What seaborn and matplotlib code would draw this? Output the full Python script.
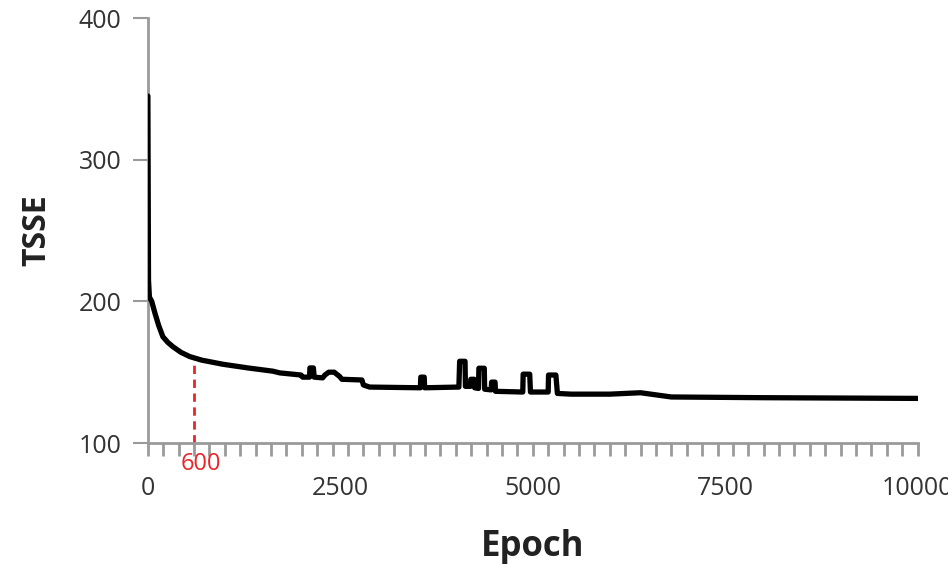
"""Recreate the TSSE vs Epoch training curve."""

import pandas as pd
import matplotlib.pyplot as plt
import seaborn as sns
from matplotlib.ticker import MultipleLocator

# Training curve (epoch, TSSE)
epoch = [0, 8, 20, 50, 90, 140, 195, 260, 325, 430, 545, 700, 975, 1300,
         1625, 1714, 1990, 2010, 2100, 2105, 2150, 2160, 2270, 2300, 2350,
         2420, 2490, 2520, 2780, 2800, 2880, 3540, 3545, 3590, 3595, 4040,
         4050, 4120, 4125, 4190, 4195, 4240, 4245, 4295, 4300, 4370, 4375,
         4460, 4465, 4510, 4515, 4870, 4875, 4960, 4970, 5200, 5205, 5300,
         5320, 5500, 6000, 6400, 6800, 8000, 10000]
tsse = [345, 215, 203, 200, 192, 183, 175, 171, 168, 164, 161, 158.5, 155.6,
        153, 150.7, 149.5, 148, 146.5, 146.5, 153, 153, 146.5, 146, 148, 150,
        150, 147, 145, 144.5, 141, 139.5, 139, 146.5, 146.5, 139, 139.5,
        157.7, 157.7, 140, 140, 145, 145, 139, 138.5, 152.8, 152.8, 138,
        137.5, 143, 143, 136.5, 136, 148.6, 148.6, 136, 136, 148, 148,
        135, 134.5, 134.5, 135.5, 132.5, 132, 131.5]

x_ticks = [0, 2500, 5000, 7500, 10000]
y_ticks = [100, 200, 300, 400]
marked_epoch = 600
marked_tsse = 160

df = pd.DataFrame({'Epoch': epoch, 'TSSE': tsse})

sns.set_style('ticks')
plt.rcParams['font.family'] = ['Open Sans', 'DejaVu Sans']

fig = plt.figure(figsize=(9.48, 5.64), dpi=100)
ax = fig.add_axes([0.156, 0.2145, 0.812, 0.7535])

sns.lineplot(data=df, x='Epoch', y='TSSE', estimator=None, sort=False,
             color='black', linewidth=3.8, ax=ax, zorder=3)

# red marker at epoch 600
ax.plot([marked_epoch, marked_epoch], [100, marked_tsse], color='#e8262a',
        linestyle=(0, (3, 2)), linewidth=2, zorder=2)
ax.text(marked_epoch + 90, 93.5, str(marked_epoch), color='#e8262a',
        fontsize=17, ha='center', va='top')

ax.set_xlim(0, 10000)
ax.set_ylim(100, 400)
ax.set_xticks(x_ticks)
ax.set_yticks(y_ticks)
# tick marks every 200 epochs, labels only every 2500
ax.xaxis.set_minor_locator(MultipleLocator(200))
ax.xaxis.remove_overlapping_locs = False

grey = '#9a9a9a'
sns.despine(ax=ax)
for side in ['left', 'bottom']:
    ax.spines[side].set_color(grey)
    ax.spines[side].set_linewidth(2)
ax.tick_params(axis='x', which='major', length=0, labelsize=18,
               labelcolor='#333333', pad=24)
ax.tick_params(axis='x', which='minor', direction='out', length=9, width=2,
               color=grey)
ax.tick_params(axis='y', direction='out', length=11, width=1.5,
               color=grey, labelsize=18, labelcolor='#333333', pad=8)

ax.set_xlabel('Epoch', fontsize=25, fontweight='bold', color='#222222', labelpad=20)
ax.set_ylabel('TSSE', fontsize=23, fontweight='bold', color='#222222', labelpad=18)

fig.savefig('out.png', dpi=100)
